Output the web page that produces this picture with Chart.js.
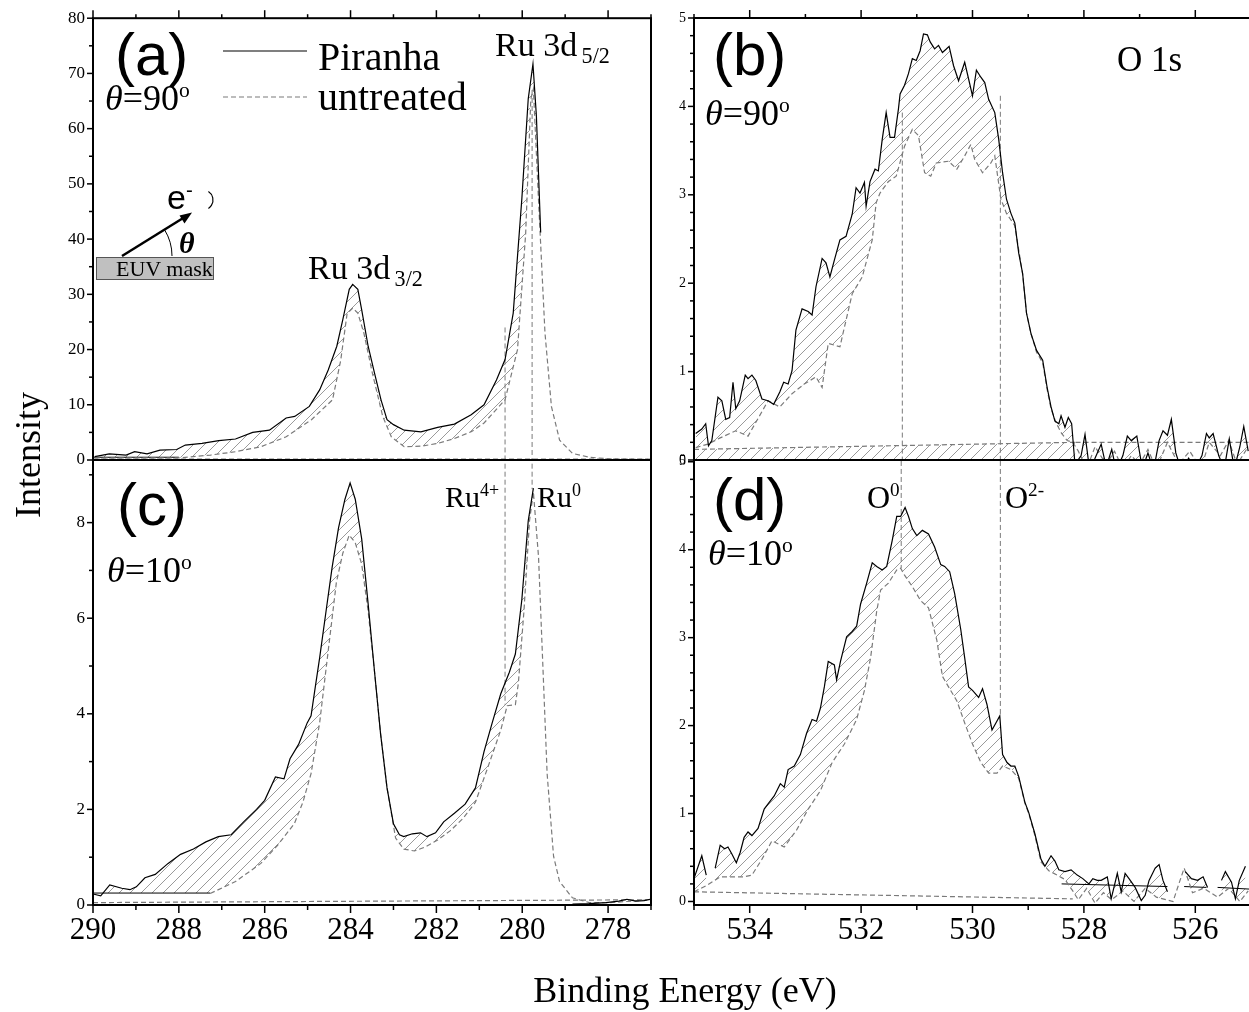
<!DOCTYPE html>
<html><head><meta charset="utf-8">
<script src="https://cdn.jsdelivr.net/npm/chart.js@4.4.0/dist/chart.umd.min.js"></script>
<style>
html,body{margin:0;padding:0;background:#fff;overflow:hidden;width:1249px;height:1012px;}
canvas{position:absolute;left:0;top:0;}
.t{position:absolute;white-space:nowrap;line-height:1;font-family:'Liberation Serif','Times New Roman',serif;color:#000;}
.sans{font-family:'Liberation Sans',Arial,sans-serif;}
.sup{font-size:0.6em;position:relative;top:-0.6em;}
.sub{font-size:0.65em;position:relative;top:0.3em;margin-left:0.2em;}
</style></head><body>
<canvas id="ca" width="1260" height="1012"></canvas>
<canvas id="cb" width="1260" height="1012"></canvas>
<canvas id="cc" width="1260" height="1012"></canvas>
<canvas id="cd" width="1260" height="1012"></canvas>

<div class="t sans" style="left:115px;top:25px;font-size:60px">(a)</div>
<div class="t sans" style="left:713px;top:25px;font-size:60px">(b)</div>
<div class="t sans" style="left:117px;top:475px;font-size:60px">(c)</div>
<div class="t sans" style="left:713px;top:470px;font-size:60px">(d)</div>
<div class="t" style="left:105px;top:80px;font-size:36px"><i>θ</i>=90<span class="sup">o</span></div>
<div class="t" style="left:705px;top:95px;font-size:36px"><i>θ</i>=90<span class="sup">o</span></div>
<div class="t" style="left:107px;top:552px;font-size:36px"><i>θ</i>=10<span class="sup">o</span></div>
<div class="t" style="left:708px;top:535px;font-size:36px"><i>θ</i>=10<span class="sup">o</span></div>
<div class="t" style="left:318px;top:37px;font-size:40px">Piranha</div>
<div class="t" style="left:318px;top:77px;font-size:40px">untreated</div>
<div class="t" style="left:495px;top:28px;font-size:34px">Ru 3d<span class="sub">5/2</span></div>
<div class="t" style="left:308px;top:251px;font-size:34px">Ru 3d<span class="sub">3/2</span></div>
<div class="t" style="left:1117px;top:42px;font-size:35px">O 1s</div>
<div class="t" style="left:445px;top:482px;font-size:30px">Ru<span class="sup">4+</span></div>
<div class="t" style="left:537px;top:482px;font-size:30px">Ru<span class="sup">0</span></div>
<div class="t" style="left:867px;top:481px;font-size:32px">O<span class="sup">0</span></div>
<div class="t" style="left:1005px;top:481px;font-size:32px">O<span class="sup">2-</span></div>
<div class="t" style="left:685px;top:972px;font-size:36px;transform:translateX(-50%)">Binding Energy (eV)</div>
<div class="t" style="left:28px;top:455px;font-size:36px;transform:translate(-50%,-50%) rotate(-90deg)">Intensity</div>
<div class="t" style="left:116px;top:258px;font-size:22px">EUV mask</div>
<div class="t sans" style="left:167px;top:180px;font-size:34px">e<span class="sup">-</span></div>
<div class="t" style="left:179px;top:228px;font-size:30px;font-weight:bold;font-style:italic">θ</div>

<script>
// ---------- Panel (a): Ru 3d, theta = 90 ----------
const aPiranhaE = [289.96,289.62,289.23,289.03,288.74,288.44,288.05,287.85,287.46,287.07,286.68,286.28,285.89,285.5,285.3,284.96,284.72,284.52,284.32,284.18,284.03,283.95,283.83,283.74,283.59,283.44,283.29,283.15,283.0,282.75,282.36,281.97,281.58,281.19,280.89,280.6,280.4,280.21,280.01,279.86,279.75,279.67,279.57];
const aPiranhaI = [0.6,1.1,0.9,1.5,1.1,1.8,1.9,2.7,3.0,3.5,3.8,5.0,5.4,7.6,7.9,9.7,12.7,16.3,20.6,25.4,30.9,31.8,30.9,27.2,20.6,15.7,10.9,7.3,6.4,5.4,5.1,5.9,6.5,8.2,10.0,14.5,18.2,26.6,47.2,65.4,71.7,62.3,41.2];
const aUntreatedE = [289.96,289.23,287.95,287.26,286.68,286.09,285.5,284.91,284.42,284.23,284.08,283.95,283.83,283.69,283.49,283.25,283.05,282.75,282.36,281.97,281.58,281.19,280.89,280.4,280.11,279.92,279.8,279.74,279.62,279.47,279.32,279.13,278.83,278.44,277.95,277.07];
const aUntreatedI = [0.4,0.4,0.4,0.9,1.5,2.4,4.2,7.3,10.9,18.0,26.5,27.5,26.6,23.0,15.7,7.9,4.2,2.4,2.5,3.0,3.9,5.1,6.7,10.9,20.0,41.0,65.4,67.2,47.0,23.0,9.7,3.6,1.2,0.5,0.2,0.1];
const aBaseSolidE = [290,288.0], aBaseSolidI = [0.5,0.5];
const aBaseDashE = [290,277], aBaseDashI = [0.15,0.15];
const aRu4E = [280.4,280.4], aRu4I = [24,0];
const aRu0E = [279.77,279.77], aRu0I = [67,0];

// ---------- Panel (c): Ru 3d, theta = 10 ----------
const cPiranhaE = [290.0,289.82,289.61,289.33,289.14,288.99,288.79,288.55,288.25,287.96,287.66,287.37,287.08,286.78,286.49,286.19,286.0,285.75,285.55,285.41,285.21,285.01,284.92,284.82,284.72,284.57,284.43,284.28,284.13,284.01,283.89,283.74,283.59,283.44,283.3,283.15,283.0,282.86,282.76,282.56,282.37,282.22,282.02,281.83,281.58,281.33,281.09,280.89,280.7,280.5,280.3,280.16,280.01,279.86,279.74,279.7,278.83,278.44,278.05,277.75,277.56,277.36,277.16,277.02];
const cPiranhaI = [0.23,0.19,0.42,0.35,0.32,0.38,0.57,0.64,0.87,1.06,1.17,1.32,1.43,1.47,1.74,2.0,2.19,2.68,2.64,3.06,3.36,3.81,3.96,4.57,5.17,6.15,7.06,7.89,8.49,8.83,8.49,7.66,6.30,4.87,3.58,2.45,1.70,1.47,1.43,1.49,1.51,1.43,1.51,1.74,1.92,2.11,2.45,3.21,3.81,4.42,4.87,5.25,6.38,8.04,8.72,null,0.02,0.03,0.05,0.08,0.12,0.08,0.09,0.12];
const cUntreatedE = [287.27,286.68,286.09,285.7,285.31,285.11,284.92,284.72,284.52,284.33,284.18,284.03,283.89,283.74,283.59,283.44,283.3,283.15,282.95,282.76,282.51,282.27,281.97,281.68,281.38,281.09,280.79,280.5,280.35,280.16,280.09,279.96,279.83,279.74,279.62,279.52,279.42,279.27,279.13,278.83,278.44,277.95,276.99];
const cUntreatedI = [0.24,0.49,0.87,1.25,1.70,2.15,2.75,3.81,5.32,6.75,7.36,7.74,7.58,7.13,6.15,4.87,3.58,2.45,1.40,1.17,1.13,1.21,1.36,1.55,1.81,2.15,2.91,3.66,4.17,4.19,4.64,6.15,8.04,8.64,7.28,5.02,2.75,1.02,0.49,0.15,0.05,0.05,0.11];
const cBaseSolidE = [290,287.27], cBaseSolidI = [0.25,0.25];
const cBaseDashE = [290,277], cBaseDashI = [0.05,0.11];
const cRu4E = [280.4,280.4], cRu4I = [9.4,4.19];
const cRu0E = [279.77,279.77], cRu0I = [9.4,8.7];

// ---------- Panel (b): O 1s, theta = 90 ----------
const bPiranhaE = [534.97,534.86,534.79,534.74,534.68,534.57,534.5,534.43,534.36,534.3,534.25,534.18,534.08,534.03,533.96,533.89,533.78,533.67,533.57,533.46,533.39,533.31,533.24,533.17,533.06,532.95,532.88,532.81,532.7,532.63,532.56,532.48,532.38,532.27,532.16,532.09,532.02,531.94,531.91,531.84,531.75,531.69,531.62,531.55,531.48,531.4,531.33,531.3,531.22,531.15,531.08,531.01,530.94,530.88,530.81,530.76,530.68,530.61,530.54,530.47,530.42,530.34,530.25,530.14,530.07,530.0,529.93,529.85,529.78,529.71,529.6,529.53,529.46,529.39,529.31,529.24,529.17,529.1,529.03,528.95,528.85,528.74,528.66,528.59,528.52,528.45,528.41,528.34,528.28,528.22,528.16,528.05,527.98,527.9,527.8,527.69,527.6,527.5,527.42,527.3,527.22,527.15,527.05,526.95,526.85,526.75,526.65,526.58,526.5,526.43,526.35,526.25,526.12,526.0,525.88,525.8,525.75,525.68,525.58,525.48,525.39,525.3,525.2,525.13,525.05];
const bPiranhaI = [0.3,0.35,0.41,0.16,0.22,0.71,0.67,0.46,0.48,0.88,0.58,0.67,0.96,0.92,0.96,0.90,0.69,0.67,0.63,0.77,0.88,0.86,1.01,1.47,1.71,1.68,1.64,1.96,2.28,2.23,2.07,2.26,2.49,2.53,2.78,3.08,3.02,3.14,2.87,3.15,3.29,3.27,3.63,3.93,3.65,3.65,3.97,4.14,4.24,4.37,4.54,4.52,4.63,4.82,4.81,4.73,4.65,4.69,4.61,4.65,4.68,4.46,4.29,4.50,4.31,4.12,4.41,4.33,4.27,4.08,3.93,3.63,3.25,2.95,2.79,2.68,2.34,2.11,1.66,1.43,1.24,1.13,0.82,0.60,0.44,0.41,0.50,0.37,0.48,0.41,-0.05,0.05,0.29,-0.1,0.02,0.18,-0.08,0.12,-0.12,0.05,0.27,0.22,0.27,-0.1,0.08,-0.12,0.22,0.33,0.28,0.46,0.08,-0.12,0.02,-0.1,0.05,0.3,0.25,0.3,0.05,-0.1,0.24,-0.1,0.15,0.38,0.1];
const bUntreatedE = [534.97,534.75,534.53,534.25,534.03,533.67,533.46,533.24,533.02,532.81,532.7,532.59,532.38,532.3,532.16,531.98,531.8,531.73,531.66,531.51,531.37,531.22,531.08,530.97,530.86,530.75,530.65,530.43,530.28,530.14,530.03,529.96,529.82,529.67,529.6,529.49,529.39,529.24,529.1,529.03,528.95,528.85,528.74,528.66,528.59,528.5,528.4,528.3,528.2,528.1,527.95,527.8,527.6,527.45,527.3,527.15,527.0,526.85,526.7,526.5,526.3,526.1,525.9,525.75,525.55,525.4,525.25,525.05];
const bUntreatedI = [0.14,0.18,0.25,0.33,0.27,0.67,0.60,0.75,0.86,0.94,0.82,1.32,1.28,1.5,1.88,2.07,2.49,2.91,3.02,3.15,3.21,3.55,3.74,3.67,3.25,3.21,3.36,3.38,3.29,3.44,3.57,3.40,3.25,3.36,3.44,2.95,2.79,2.65,2.1,1.66,1.43,1.22,1.1,0.8,0.58,0.42,0.3,0.22,0.2,0.1,-0.1,0.15,-0.05,0.1,-0.1,0.05,-0.05,0.12,-0.1,0.2,-0.05,0.1,-0.1,0.2,0.05,0.22,-0.05,0.15];
const bBaseE = [535,528.15], bBaseI = [0.12,0.2];
const bBase2E = [528.15,525], bBase2I = [0.2,0.2];
const bO0E = [531.26,531.26], bO0I = [3.93,0];
const bO2E = [529.5,529.5], bO2I = [4.12,0];

// ---------- Panel (d): O 1s, theta = 10 ----------
const dPiranhaE = [534.99,534.86,534.78,534.7,534.62,534.53,534.45,534.39,534.32,534.24,534.17,534.1,534.03,533.96,533.85,533.74,533.67,533.56,533.45,533.38,533.31,533.2,533.09,532.98,532.88,532.8,532.73,532.66,532.59,532.48,532.44,532.37,532.26,532.16,532.08,532.01,531.9,531.8,531.72,531.62,531.54,531.44,531.36,531.29,531.21,531.15,531.08,531.0,530.9,530.79,530.68,530.57,530.5,530.41,530.32,530.21,530.14,530.07,530.0,529.89,529.82,529.74,529.65,529.58,529.51,529.46,529.38,529.31,529.24,529.17,529.06,528.99,528.88,528.77,528.7,528.59,528.52,528.45,528.34,528.23,528.12,528.02,527.91,527.84,527.76,527.69,527.58,527.51,527.4,527.33,527.26,527.19,527.08,526.97,526.9,526.83,526.72,526.65,526.58,526.5,526.3,526.18,526.07,525.96,525.86,525.78,525.65,525.53,525.46,525.35,525.28,525.21,525.1];
const dPiranhaI = [0.28,0.52,0.30,null,0.38,0.64,0.60,0.62,0.54,0.44,0.56,0.73,0.79,0.75,0.83,1.05,1.11,1.20,1.34,1.30,1.50,1.54,1.67,1.91,2.07,2.05,2.20,2.44,2.73,2.69,2.52,2.73,3.01,3.07,3.13,3.38,3.62,3.85,3.81,3.77,3.81,4.11,4.38,4.38,4.48,4.38,4.24,4.16,4.22,4.18,4.03,3.83,3.81,3.75,3.50,3.09,2.77,2.44,2.40,2.32,2.42,2.24,1.95,2.03,2.11,1.67,1.58,1.54,1.54,1.42,1.13,1.01,0.77,0.48,0.40,0.52,0.46,0.36,0.34,0.36,0.30,0.26,0.20,0.26,0.24,0.24,0.28,0.03,0.32,0.11,0.32,0.26,0.16,0.01,0.07,0.24,0.38,0.42,0.24,0.11,null,0.34,0.26,0.24,0.28,0.16,null,0.24,0.34,0.22,0.03,0.24,0.40];
const dUntreatedE = [535,534.78,534.53,534.32,534.1,533.96,533.78,533.6,533.38,533.16,532.95,532.73,532.52,532.3,532.08,531.94,531.83,531.72,531.65,531.51,531.36,531.29,531.22,531.08,530.93,530.79,530.64,530.54,530.43,530.28,530.14,530.0,529.85,529.71,529.56,529.46,529.31,529.17,529.06,528.99,528.88,528.77,528.63,528.48,528.34,528.2,528.1,527.95,527.8,527.65,527.5,527.3,527.1,526.9,526.7,526.4,526.2,526.05,525.85,525.6,525.4,525.2,525.05];
const dUntreatedI = [0.11,0.18,0.28,0.28,0.28,0.30,0.48,0.69,0.62,0.81,1.05,1.26,1.58,1.79,2.07,2.40,2.77,3.30,3.54,3.62,3.77,3.79,3.71,3.58,3.42,3.34,2.97,2.56,2.44,2.28,2.03,1.79,1.58,1.46,1.46,1.54,1.50,1.40,1.12,1.0,0.75,0.45,0.35,0.30,0.25,0.12,0.02,0.15,-0.02,0.1,0.02,0.12,0.0,0.15,0.05,0.0,0.38,0.1,0.15,0.05,0.15,0.0,0.12];
const dBaseDashE = [535,528.2], dBaseDashI = [0.11,0.03];
const dBaseSolidE = [528.4,526.5,526.45,526.2,525.8,525.75,525.6,525.0], dBaseSolidI = [0.2,0.17,null,0.17,0.16,null,0.16,0.14];
const dO0E = [531.28,531.28], dO0I = [5.1,3.79];
const dO2E = [529.5,529.5], dO2I = [5.1,2.11];

// ---------- helpers ----------
Chart.defaults.font.family = "'Liberation Serif','Times New Roman',serif";
const pts = (E, I) => E.map((e, i) => ({x: e, y: I[i]}));
function hatch(id) {
  const s = 11, c = document.createElement('canvas');
  c.width = s; c.height = s;
  const g = c.getContext('2d');
  g.strokeStyle = '#9a9a9a'; g.lineWidth = 1;
  g.beginPath();
  g.moveTo(0, s); g.lineTo(s, 0);
  g.moveTo(-1, 1); g.lineTo(1, -1);
  g.moveTo(s - 1, s + 1); g.lineTo(s + 1, s - 1);
  g.stroke();
  return document.getElementById(id).getContext('2d').createPattern(c, 'repeat');
}
const SOLID = {borderColor: '#000', borderWidth: 1.2};
const DASH = {borderColor: '#7a7a7a', borderWidth: 1.2, borderDash: [5, 3]};
const ds = (E, I, style, extra) => Object.assign({data: pts(E, I), fill: false, spanGaps: false}, style, extra || {});

const frameTicks = {
  id: 'frameTicks',
  afterDraw(chart, args, o) {
    const {ctx, chartArea: a, scales: {x, y}} = chart;
    ctx.save();
    ctx.strokeStyle = '#000';
    ctx.lineWidth = 2;
    ctx.strokeRect(a.left, a.top, a.right - a.left, a.bottom - a.top);
    ctx.lineWidth = 1.5;
    const each = (lo, hi, step, fn) => {
      for (let k = Math.ceil(lo / step - 1e-6); k * step <= hi + 1e-6; k++) fn(k * step);
    };
    const maj = (v, m) => Math.abs(v / m - Math.round(v / m)) < 1e-6;
    const seg = (x1, y1, x2, y2) => { ctx.beginPath(); ctx.moveTo(x1, y1); ctx.lineTo(x2, y2); ctx.stroke(); };
    if (o.left) each(y.min, y.max, o.left[1], v => {
      const p = y.getPixelForValue(v), L = maj(v, o.left[0]) ? 6 : 4; seg(a.left - L, p, a.left, p);
    });
    const xlo = Math.min(x.min, x.max), xhi = Math.max(x.min, x.max);
    if (o.top) each(xlo, xhi, o.top[1], v => {
      const p = x.getPixelForValue(v), L = maj(v, o.top[0]) ? 8 : 4; seg(p, a.top - L, p, a.top);
    });
    if (o.bottom) each(xlo, xhi, o.bottom[1], v => {
      const p = x.getPixelForValue(v), L = maj(v, o.bottom[0]) ? 8 : 5; seg(p, a.bottom, p, a.bottom + L);
    });
    ctx.restore();
  }
};

const insetPlugin = {
  id: 'inset',
  afterDraw(chart, args, o) {
    if (!o.on) return;
    const ctx = chart.ctx;
    ctx.save();
    // legend samples
    ctx.strokeStyle = '#000'; ctx.lineWidth = 1.2; ctx.setLineDash([]);
    ctx.beginPath(); ctx.moveTo(223, 51); ctx.lineTo(307, 51); ctx.stroke();
    ctx.strokeStyle = '#7a7a7a'; ctx.setLineDash([5, 3]);
    ctx.beginPath(); ctx.moveTo(223, 97); ctx.lineTo(307, 97); ctx.stroke();
    ctx.setLineDash([]);
    // EUV mask box
    ctx.fillStyle = '#c0c0c0'; ctx.fillRect(96, 257, 118, 23);
    ctx.strokeStyle = '#555'; ctx.lineWidth = 1; ctx.strokeRect(96.5, 257.5, 117, 22);
    // arrow
    ctx.strokeStyle = '#000'; ctx.lineWidth = 2.5;
    ctx.beginPath(); ctx.moveTo(122, 256); ctx.lineTo(184, 217.5); ctx.stroke();
    ctx.fillStyle = '#000';
    ctx.beginPath(); ctx.moveTo(192, 212.5); ctx.lineTo(179.5, 215.5); ctx.lineTo(184.5, 223.5); ctx.closePath(); ctx.fill();
    // angle arc
    ctx.lineWidth = 1;
    ctx.beginPath(); ctx.arc(122, 256, 50, -Math.atan2(42, 68), 0); ctx.stroke();
    // small arc near e
    ctx.lineWidth = 1.2;
    ctx.beginPath(); ctx.arc(203, 200, 10, -1.0, 1.0); ctx.stroke();
    ctx.restore();
  }
};

function makeChart(id, datasets, c) {
  return new Chart(document.getElementById(id), {
    type: 'line',
    data: {datasets},
    options: {
      responsive: false, animation: false, events: [],
      layout: {padding: c.pad},
      elements: {point: {radius: 0}, line: {tension: 0}},
      plugins: {
        legend: {display: false}, tooltip: {enabled: false},
        filler: {drawTime: 'beforeDatasetsDraw'},
        frameTicks: c.ft, inset: {on: !!c.inset}
      },
      scales: {
        x: {
          type: 'linear', reverse: true, min: c.xmin, max: c.xmax, display: c.xShow,
          afterFit: s => { s.height = c.xShow ? 107 : 0; },
          grid: {display: false, drawTicks: false}, border: {display: false},
          ticks: {stepSize: 1, autoSkip: false, maxRotation: 0, minRotation: 0, includeBounds: false, padding: 7,
            color: '#000', font: {size: 31},
            callback: v => (Math.round(v) % 2 === 0 ? String(Math.round(v)) : '')}
        },
        y: {
          type: 'linear', min: c.ymin, max: c.ymax,
          afterFit: s => { s.width = c.yW; },
          grid: {display: false, drawTicks: false}, border: {display: false},
          ticks: {stepSize: c.ystep, includeBounds: false, padding: 8, color: '#000', font: {size: c.yFont}}
        }
      }
    },
    plugins: [frameTicks, insetPlugin]
  });
}

// ----- (a) -----
const patA = hatch('ca');
makeChart('ca', [
  ds(aPiranhaE, aPiranhaI, SOLID, {backgroundColor: patA, fill: {target: 1, above: patA, below: 'rgba(0,0,0,0)'}}),
  ds(aUntreatedE, aUntreatedI, DASH),
  ds(aBaseSolidE, aBaseSolidI, {borderColor: '#000', borderWidth: 1}),
  ds(aBaseDashE, aBaseDashI, DASH),
  ds(aRu4E, aRu4I, DASH, {borderWidth: 1}),
  ds(aRu0E, aRu0I, DASH, {borderWidth: 1})
], {pad: {left: 33, right: 609, top: 18, bottom: 552}, xmin: 277, xmax: 290, xShow: false,
    ymin: 0, ymax: 80, ystep: 10, yW: 60, yFont: 17, ft: {left: [10, 5], top: [2, 1]}, inset: true});

// ----- (c) -----
const patC = hatch('cc');
const cLowerE = cBaseSolidE.concat(cUntreatedE), cLowerI = cBaseSolidI.concat(cUntreatedI);
makeChart('cc', [
  ds(cPiranhaE, cPiranhaI, SOLID, {backgroundColor: patC, fill: {target: 1, above: patC, below: 'rgba(0,0,0,0)'}}),
  ds(cLowerE, cLowerI, {borderColor: 'rgba(0,0,0,0)', borderWidth: 0}),
  ds(cUntreatedE, cUntreatedI, DASH),
  ds(cBaseSolidE, cBaseSolidI, {borderColor: '#000', borderWidth: 1}),
  ds(cBaseDashE, cBaseDashI, DASH),
  ds(cRu4E, cRu4I, DASH, {borderWidth: 1}),
  ds(cRu0E, cRu0I, DASH, {borderWidth: 1})
], {pad: {left: 33, right: 609, top: 460, bottom: 0}, xmin: 277, xmax: 290, xShow: true,
    ymin: 0, ymax: 9.31, ystep: 2, yW: 60, yFont: 17, ft: {left: [2, 1], bottom: [2, 1]}});

// ----- (b) -----
const patB = hatch('cb');
makeChart('cb', [
  ds(bPiranhaE, bPiranhaI, SOLID, {backgroundColor: patB, fill: {target: 1, above: patB, below: 'rgba(0,0,0,0)'}}),
  ds(bUntreatedE, bUntreatedI, DASH),
  ds(bBaseE, bBaseI, DASH, {backgroundColor: patB, fill: {target: 'origin', above: patB, below: 'rgba(0,0,0,0)'}}),
  ds(bBase2E, bBase2I, DASH),
  ds(bO0E, bO0I, DASH, {borderWidth: 1}),
  ds(bO2E, bO2I, DASH, {borderWidth: 1})
], {pad: {left: 644, right: 9, top: 18, bottom: 552}, xmin: 525, xmax: 535, xShow: false,
    ymin: 0, ymax: 5, ystep: 1, yW: 50, yFont: 14, ft: {left: [1, 0.2], top: [2, 1]}});

// ----- (d) -----
const patD = hatch('cd');
makeChart('cd', [
  ds(dPiranhaE, dPiranhaI, SOLID, {backgroundColor: patD, fill: {target: 1, above: patD, below: 'rgba(0,0,0,0)'}}),
  ds(dUntreatedE, dUntreatedI, DASH),
  ds(dBaseDashE, dBaseDashI, DASH),
  ds(dBaseSolidE, dBaseSolidI, {borderColor: '#000', borderWidth: 1}),
  ds(dO0E, dO0I, DASH, {borderWidth: 1}),
  ds(dO2E, dO2I, DASH, {borderWidth: 1})
], {pad: {left: 644, right: 9, top: 460, bottom: 0}, xmin: 525, xmax: 535, xShow: true,
    ymin: -0.04, ymax: 5.02, ystep: 1, yW: 50, yFont: 14, ft: {left: [1, 0.2], bottom: [2, 1]}});
</script>
</body></html>
